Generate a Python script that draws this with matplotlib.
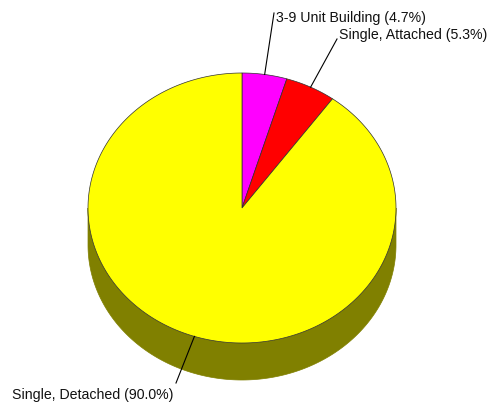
import numpy as np
import matplotlib
matplotlib.use("Agg")
import matplotlib.pyplot as plt
from matplotlib.patches import Polygon

labels = ["3-9 Unit Building", "Single, Attached", "Single, Detached"]
shares = [4.7, 5.3, 90.0]
top_colors = ["#ff00ff", "#ff0000", "#ffff00"]
side_colors = ["#800080", "#800000", "#808000"]

# pie geometry in pixels
cx, cy = 242, 208
rx, ry = 154, 135
depth = 37

fig = plt.figure(figsize=(4.93, 4.05), dpi=100)
ax = fig.add_axes([0, 0, 1, 1])
ax.set_xlim(0, 493)
ax.set_ylim(405, 0)
ax.axis("off")

def pt(a, dy=0):
    t = np.radians(a)
    return cx + rx * np.cos(t), cy - ry * np.sin(t) + dy

# slice angles, clockwise from 12 o'clock
bounds = 90 - np.cumsum([0] + shares) * 3.6
slices = list(zip(bounds[:-1], bounds[1:]))

# front side wall (angles 180..360 visible)
for (a0, a1), sc in zip(slices, side_colors):
    lo, hi = min(a0, a1), max(a0, a1)
    for off in (-360, 0, 360):
        s, e = max(lo + off, -180), min(hi + off, 0)
        if s < e:
            aa = np.linspace(s, e, 200)
            x, y = pt(aa)
            xb, yb = pt(aa[::-1], depth)
            poly = np.column_stack([np.r_[x, xb], np.r_[y, yb]])
            ax.add_patch(Polygon(poly, closed=True, fc=sc, ec=sc, lw=0.5, zorder=1))

# top face
for (a0, a1), tc in zip(slices, top_colors):
    aa = np.linspace(a0, a1, 300)
    x, y = pt(aa)
    poly = np.column_stack([np.r_[cx, x], np.r_[cy, y]])
    ax.add_patch(Polygon(poly, closed=True, fc=tc, ec="#303030", lw=0.5, zorder=3))

# labels with leader lines
label_pos = [(276, 18), (339, 35), (12, 395)]
line_end = [(274, 13), (337, 39), (176, 383)]
for i, (lab, val) in enumerate(zip(labels, shares)):
    mid = (slices[i][0] + slices[i][1]) / 2
    mx, my = pt(mid)
    ex, ey = line_end[i]
    ax.plot([mx, ex], [my, ey], color="black", lw=0.8, zorder=4)
    tx, ty = label_pos[i]
    ax.text(tx, ty, f"{lab} ({val:.1f}%)", ha="left", va="center",
            fontsize=10.2, family="Liberation Sans", color="#111111", zorder=5)

fig.savefig("out.png", dpi=100)
